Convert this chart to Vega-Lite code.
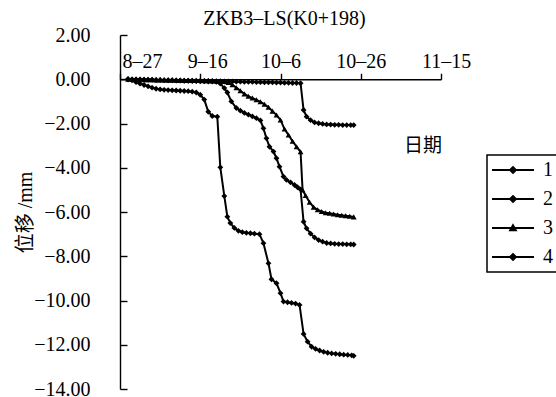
{
  "$schema": "https://vega.github.io/schema/vega-lite/v6.json",
  "width": 321,
  "height": 354,
  "autosize": "none",
  "padding": {"left": 120, "top": 35, "right": 115, "bottom": 8},
  "background": "white",
  "config": {
    "view": {"stroke": null},
    "font": "Liberation Serif, Noto Sans CJK SC",
    "legend": {"strokeWidth": 1.5},
    "axis": {
      "domainColor": "black",
      "domainWidth": 1.4,
      "tickColor": "black",
      "tickWidth": 1.4,
      "labelColor": "black",
      "labelFont": "Liberation Serif",
      "labelFontSize": 20,
      "titleColor": "black",
      "titleFont": "Liberation Serif, Noto Sans CJK SC",
      "titleFontSize": 20,
      "titleFontWeight": "normal",
      "grid": false
    }
  },
  "title": {
    "text": "ZKB3–LS(K0+198)",
    "font": "Liberation Serif",
    "fontSize": 20,
    "fontWeight": "normal",
    "color": "black",
    "frame": "group",
    "anchor": "middle",
    "baseline": "alphabetic",
    "offset": -20,
    "dx": 4
  },
  "data": {
    "format": {"parse": {"t": "date:'%Y-%m-%d %H'"}},
    "values": [
      {"s": "1", "t": "2012-08-29 00", "v": 0},
      {"s": "1", "t": "2012-08-30 00", "v": -0.05},
      {"s": "1", "t": "2012-08-31 00", "v": -0.13},
      {"s": "1", "t": "2012-09-01 00", "v": -0.2},
      {"s": "1", "t": "2012-09-02 00", "v": -0.26},
      {"s": "1", "t": "2012-09-03 00", "v": -0.32},
      {"s": "1", "t": "2012-09-04 00", "v": -0.38},
      {"s": "1", "t": "2012-09-05 00", "v": -0.43},
      {"s": "1", "t": "2012-09-06 00", "v": -0.46},
      {"s": "1", "t": "2012-09-07 00", "v": -0.48},
      {"s": "1", "t": "2012-09-08 00", "v": -0.49},
      {"s": "1", "t": "2012-09-09 00", "v": -0.5},
      {"s": "1", "t": "2012-09-10 00", "v": -0.51},
      {"s": "1", "t": "2012-09-11 00", "v": -0.52},
      {"s": "1", "t": "2012-09-12 00", "v": -0.53},
      {"s": "1", "t": "2012-09-13 00", "v": -0.54},
      {"s": "1", "t": "2012-09-14 00", "v": -0.56},
      {"s": "1", "t": "2012-09-15 00", "v": -0.6},
      {"s": "1", "t": "2012-09-16 00", "v": -0.7},
      {"s": "1", "t": "2012-09-17 00", "v": -0.92},
      {"s": "1", "t": "2012-09-18 00", "v": -1.47},
      {"s": "1", "t": "2012-09-19 00", "v": -1.66},
      {"s": "1", "t": "2012-09-20 06", "v": -1.69},
      {"s": "1", "t": "2012-09-21 00", "v": -3.98},
      {"s": "1", "t": "2012-09-22 00", "v": -5.28},
      {"s": "1", "t": "2012-09-22 18", "v": -6.21},
      {"s": "1", "t": "2012-09-23 12", "v": -6.5},
      {"s": "1", "t": "2012-09-24 12", "v": -6.72},
      {"s": "1", "t": "2012-09-25 12", "v": -6.85},
      {"s": "1", "t": "2012-09-26 12", "v": -6.91},
      {"s": "1", "t": "2012-09-27 12", "v": -6.94},
      {"s": "1", "t": "2012-09-28 12", "v": -6.96},
      {"s": "1", "t": "2012-09-29 12", "v": -6.98},
      {"s": "1", "t": "2012-09-30 18", "v": -7.0},
      {"s": "1", "t": "2012-10-01 18", "v": -7.41},
      {"s": "1", "t": "2012-10-03 00", "v": -8.32},
      {"s": "1", "t": "2012-10-03 18", "v": -9.04},
      {"s": "1", "t": "2012-10-05 00", "v": -9.22},
      {"s": "1", "t": "2012-10-06 00", "v": -9.67},
      {"s": "1", "t": "2012-10-06 18", "v": -10.05},
      {"s": "1", "t": "2012-10-07 18", "v": -10.08},
      {"s": "1", "t": "2012-10-08 18", "v": -10.11},
      {"s": "1", "t": "2012-10-09 18", "v": -10.14},
      {"s": "1", "t": "2012-10-10 18", "v": -10.2},
      {"s": "1", "t": "2012-10-11 18", "v": -11.51},
      {"s": "1", "t": "2012-10-12 18", "v": -11.86},
      {"s": "1", "t": "2012-10-13 18", "v": -12.09},
      {"s": "1", "t": "2012-10-14 18", "v": -12.19},
      {"s": "1", "t": "2012-10-15 18", "v": -12.26},
      {"s": "1", "t": "2012-10-16 18", "v": -12.32},
      {"s": "1", "t": "2012-10-17 18", "v": -12.36},
      {"s": "1", "t": "2012-10-18 18", "v": -12.39},
      {"s": "1", "t": "2012-10-19 18", "v": -12.41},
      {"s": "1", "t": "2012-10-20 18", "v": -12.43},
      {"s": "1", "t": "2012-10-21 18", "v": -12.45},
      {"s": "1", "t": "2012-10-22 18", "v": -12.46},
      {"s": "1", "t": "2012-10-23 18", "v": -12.48},
      {"s": "1", "t": "2012-10-24 06", "v": -12.5},

      {"s": "2", "t": "2012-08-29 00", "v": 0},
      {"s": "2", "t": "2012-08-30 00", "v": -0.01},
      {"s": "2", "t": "2012-08-31 00", "v": -0.01},
      {"s": "2", "t": "2012-09-01 00", "v": -0.02},
      {"s": "2", "t": "2012-09-02 00", "v": -0.02},
      {"s": "2", "t": "2012-09-03 00", "v": -0.03},
      {"s": "2", "t": "2012-09-04 00", "v": -0.03},
      {"s": "2", "t": "2012-09-05 00", "v": -0.04},
      {"s": "2", "t": "2012-09-06 00", "v": -0.04},
      {"s": "2", "t": "2012-09-07 00", "v": -0.05},
      {"s": "2", "t": "2012-09-08 00", "v": -0.05},
      {"s": "2", "t": "2012-09-09 00", "v": -0.05},
      {"s": "2", "t": "2012-09-10 00", "v": -0.06},
      {"s": "2", "t": "2012-09-11 00", "v": -0.06},
      {"s": "2", "t": "2012-09-12 00", "v": -0.07},
      {"s": "2", "t": "2012-09-13 00", "v": -0.07},
      {"s": "2", "t": "2012-09-14 00", "v": -0.08},
      {"s": "2", "t": "2012-09-15 00", "v": -0.08},
      {"s": "2", "t": "2012-09-16 00", "v": -0.09},
      {"s": "2", "t": "2012-09-17 00", "v": -0.09},
      {"s": "2", "t": "2012-09-18 00", "v": -0.1},
      {"s": "2", "t": "2012-09-19 00", "v": -0.1},
      {"s": "2", "t": "2012-09-20 00", "v": -0.12},
      {"s": "2", "t": "2012-09-21 00", "v": -0.2},
      {"s": "2", "t": "2012-09-22 00", "v": -0.4},
      {"s": "2", "t": "2012-09-22 18", "v": -0.6},
      {"s": "2", "t": "2012-09-23 18", "v": -1.0},
      {"s": "2", "t": "2012-09-25 00", "v": -1.3},
      {"s": "2", "t": "2012-09-26 00", "v": -1.42},
      {"s": "2", "t": "2012-09-27 00", "v": -1.52},
      {"s": "2", "t": "2012-09-28 00", "v": -1.6},
      {"s": "2", "t": "2012-09-29 00", "v": -1.68},
      {"s": "2", "t": "2012-09-30 00", "v": -1.76},
      {"s": "2", "t": "2012-10-01 00", "v": -1.86},
      {"s": "2", "t": "2012-10-01 18", "v": -2.22},
      {"s": "2", "t": "2012-10-02 12", "v": -2.67},
      {"s": "2", "t": "2012-10-03 06", "v": -3.05},
      {"s": "2", "t": "2012-10-04 06", "v": -3.27},
      {"s": "2", "t": "2012-10-05 00", "v": -3.57},
      {"s": "2", "t": "2012-10-05 18", "v": -3.95},
      {"s": "2", "t": "2012-10-06 18", "v": -4.4},
      {"s": "2", "t": "2012-10-07 12", "v": -4.55},
      {"s": "2", "t": "2012-10-08 12", "v": -4.66},
      {"s": "2", "t": "2012-10-09 12", "v": -4.78},
      {"s": "2", "t": "2012-10-10 06", "v": -4.88},
      {"s": "2", "t": "2012-10-11 00", "v": -4.98},
      {"s": "2", "t": "2012-10-11 18", "v": -6.44},
      {"s": "2", "t": "2012-10-12 12", "v": -6.74},
      {"s": "2", "t": "2012-10-13 12", "v": -6.98},
      {"s": "2", "t": "2012-10-14 12", "v": -7.15},
      {"s": "2", "t": "2012-10-15 12", "v": -7.27},
      {"s": "2", "t": "2012-10-16 12", "v": -7.34},
      {"s": "2", "t": "2012-10-17 12", "v": -7.4},
      {"s": "2", "t": "2012-10-18 12", "v": -7.42},
      {"s": "2", "t": "2012-10-19 12", "v": -7.44},
      {"s": "2", "t": "2012-10-20 12", "v": -7.45},
      {"s": "2", "t": "2012-10-21 12", "v": -7.45},
      {"s": "2", "t": "2012-10-22 12", "v": -7.46},
      {"s": "2", "t": "2012-10-23 12", "v": -7.46},
      {"s": "2", "t": "2012-10-24 06", "v": -7.47},

      {"s": "3", "t": "2012-08-29 00", "v": 0},
      {"s": "3", "t": "2012-08-30 00", "v": -0.01},
      {"s": "3", "t": "2012-08-31 00", "v": -0.01},
      {"s": "3", "t": "2012-09-01 00", "v": -0.01},
      {"s": "3", "t": "2012-09-02 00", "v": -0.02},
      {"s": "3", "t": "2012-09-03 00", "v": -0.02},
      {"s": "3", "t": "2012-09-04 00", "v": -0.02},
      {"s": "3", "t": "2012-09-05 00", "v": -0.03},
      {"s": "3", "t": "2012-09-06 00", "v": -0.03},
      {"s": "3", "t": "2012-09-07 00", "v": -0.03},
      {"s": "3", "t": "2012-09-08 00", "v": -0.04},
      {"s": "3", "t": "2012-09-09 00", "v": -0.04},
      {"s": "3", "t": "2012-09-10 00", "v": -0.04},
      {"s": "3", "t": "2012-09-11 00", "v": -0.05},
      {"s": "3", "t": "2012-09-12 00", "v": -0.05},
      {"s": "3", "t": "2012-09-13 00", "v": -0.05},
      {"s": "3", "t": "2012-09-14 00", "v": -0.06},
      {"s": "3", "t": "2012-09-15 00", "v": -0.06},
      {"s": "3", "t": "2012-09-16 00", "v": -0.06},
      {"s": "3", "t": "2012-09-17 00", "v": -0.07},
      {"s": "3", "t": "2012-09-18 00", "v": -0.07},
      {"s": "3", "t": "2012-09-19 00", "v": -0.08},
      {"s": "3", "t": "2012-09-20 00", "v": -0.08},
      {"s": "3", "t": "2012-09-21 00", "v": -0.09},
      {"s": "3", "t": "2012-09-22 00", "v": -0.1},
      {"s": "3", "t": "2012-09-23 00", "v": -0.15},
      {"s": "3", "t": "2012-09-24 00", "v": -0.25},
      {"s": "3", "t": "2012-09-25 00", "v": -0.38},
      {"s": "3", "t": "2012-09-26 00", "v": -0.52},
      {"s": "3", "t": "2012-09-27 00", "v": -0.66},
      {"s": "3", "t": "2012-09-28 00", "v": -0.77},
      {"s": "3", "t": "2012-09-29 00", "v": -0.85},
      {"s": "3", "t": "2012-09-30 00", "v": -0.93},
      {"s": "3", "t": "2012-10-01 00", "v": -1.02},
      {"s": "3", "t": "2012-10-02 00", "v": -1.13},
      {"s": "3", "t": "2012-10-03 00", "v": -1.27},
      {"s": "3", "t": "2012-10-04 00", "v": -1.44},
      {"s": "3", "t": "2012-10-05 00", "v": -1.62},
      {"s": "3", "t": "2012-10-06 00", "v": -1.84},
      {"s": "3", "t": "2012-10-07 00", "v": -2.25},
      {"s": "3", "t": "2012-10-08 00", "v": -2.52},
      {"s": "3", "t": "2012-10-09 00", "v": -2.8},
      {"s": "3", "t": "2012-10-10 00", "v": -3.05},
      {"s": "3", "t": "2012-10-11 00", "v": -3.28},
      {"s": "3", "t": "2012-10-11 12", "v": -5.0},
      {"s": "3", "t": "2012-10-12 06", "v": -5.25},
      {"s": "3", "t": "2012-10-13 06", "v": -5.56},
      {"s": "3", "t": "2012-10-14 06", "v": -5.78},
      {"s": "3", "t": "2012-10-15 06", "v": -5.9},
      {"s": "3", "t": "2012-10-16 06", "v": -5.98},
      {"s": "3", "t": "2012-10-17 06", "v": -6.03},
      {"s": "3", "t": "2012-10-18 06", "v": -6.06},
      {"s": "3", "t": "2012-10-19 06", "v": -6.09},
      {"s": "3", "t": "2012-10-20 06", "v": -6.12},
      {"s": "3", "t": "2012-10-21 06", "v": -6.15},
      {"s": "3", "t": "2012-10-22 06", "v": -6.17},
      {"s": "3", "t": "2012-10-23 06", "v": -6.19},
      {"s": "3", "t": "2012-10-24 06", "v": -6.22},

      {"s": "4", "t": "2012-08-29 00", "v": 0},
      {"s": "4", "t": "2012-08-30 00", "v": -0.01},
      {"s": "4", "t": "2012-08-31 00", "v": -0.01},
      {"s": "4", "t": "2012-09-01 00", "v": -0.01},
      {"s": "4", "t": "2012-09-02 00", "v": -0.02},
      {"s": "4", "t": "2012-09-03 00", "v": -0.02},
      {"s": "4", "t": "2012-09-04 00", "v": -0.02},
      {"s": "4", "t": "2012-09-05 00", "v": -0.03},
      {"s": "4", "t": "2012-09-06 00", "v": -0.03},
      {"s": "4", "t": "2012-09-07 00", "v": -0.04},
      {"s": "4", "t": "2012-09-08 00", "v": -0.04},
      {"s": "4", "t": "2012-09-09 00", "v": -0.04},
      {"s": "4", "t": "2012-09-10 00", "v": -0.05},
      {"s": "4", "t": "2012-09-11 00", "v": -0.05},
      {"s": "4", "t": "2012-09-12 00", "v": -0.06},
      {"s": "4", "t": "2012-09-13 00", "v": -0.06},
      {"s": "4", "t": "2012-09-14 00", "v": -0.06},
      {"s": "4", "t": "2012-09-15 00", "v": -0.07},
      {"s": "4", "t": "2012-09-16 00", "v": -0.07},
      {"s": "4", "t": "2012-09-17 00", "v": -0.08},
      {"s": "4", "t": "2012-09-18 00", "v": -0.08},
      {"s": "4", "t": "2012-09-19 00", "v": -0.08},
      {"s": "4", "t": "2012-09-20 00", "v": -0.09},
      {"s": "4", "t": "2012-09-21 00", "v": -0.09},
      {"s": "4", "t": "2012-09-22 00", "v": -0.1},
      {"s": "4", "t": "2012-09-23 00", "v": -0.1},
      {"s": "4", "t": "2012-09-24 00", "v": -0.1},
      {"s": "4", "t": "2012-09-25 00", "v": -0.11},
      {"s": "4", "t": "2012-09-26 00", "v": -0.11},
      {"s": "4", "t": "2012-09-27 00", "v": -0.12},
      {"s": "4", "t": "2012-09-28 00", "v": -0.12},
      {"s": "4", "t": "2012-09-29 00", "v": -0.12},
      {"s": "4", "t": "2012-09-30 00", "v": -0.13},
      {"s": "4", "t": "2012-10-01 00", "v": -0.13},
      {"s": "4", "t": "2012-10-02 00", "v": -0.14},
      {"s": "4", "t": "2012-10-03 00", "v": -0.14},
      {"s": "4", "t": "2012-10-04 00", "v": -0.14},
      {"s": "4", "t": "2012-10-05 00", "v": -0.15},
      {"s": "4", "t": "2012-10-06 00", "v": -0.15},
      {"s": "4", "t": "2012-10-07 00", "v": -0.16},
      {"s": "4", "t": "2012-10-08 00", "v": -0.16},
      {"s": "4", "t": "2012-10-09 00", "v": -0.17},
      {"s": "4", "t": "2012-10-10 00", "v": -0.17},
      {"s": "4", "t": "2012-10-11 00", "v": -0.18},
      {"s": "4", "t": "2012-10-11 18", "v": -1.39},
      {"s": "4", "t": "2012-10-12 12", "v": -1.69},
      {"s": "4", "t": "2012-10-13 12", "v": -1.85},
      {"s": "4", "t": "2012-10-14 12", "v": -1.95},
      {"s": "4", "t": "2012-10-15 12", "v": -1.99},
      {"s": "4", "t": "2012-10-16 12", "v": -2.02},
      {"s": "4", "t": "2012-10-17 12", "v": -2.04},
      {"s": "4", "t": "2012-10-18 12", "v": -2.05},
      {"s": "4", "t": "2012-10-19 12", "v": -2.06},
      {"s": "4", "t": "2012-10-20 12", "v": -2.06},
      {"s": "4", "t": "2012-10-21 12", "v": -2.07},
      {"s": "4", "t": "2012-10-22 12", "v": -2.07},
      {"s": "4", "t": "2012-10-23 12", "v": -2.07},
      {"s": "4", "t": "2012-10-24 06", "v": -2.07}
    ]
  },
  "encoding": {
    "x": {
      "field": "t",
      "type": "temporal",
      "scale": {
        "domain": [
          {"year": 2012, "month": 8, "date": 27},
          {"year": 2012, "month": 11, "date": 15}
        ],
        "nice": false
      },
      "axis": {
        "orient": "top",
        "offset": -44.25,
        "title": null,
        "values": [
          {"year": 2012, "month": 8, "date": 27},
          {"year": 2012, "month": 9, "date": 16},
          {"year": 2012, "month": 10, "date": 6},
          {"year": 2012, "month": 10, "date": 26},
          {"year": 2012, "month": 11, "date": 15}
        ],
        "labelExpr": "timeFormat(datum.value, '%-m') + '–' + timeFormat(datum.value, '%-d')",
        "labelAlign": {"condition": {"test": "datum.index === 0", "value": "left"}, "value": "center"},
        "labelOffset": {
          "condition": [
            {"test": "datum.index === 0", "value": 2},
            {"test": "datum.index === 0.25", "value": 7},
            {"test": "datum.index === 1", "value": 5}
          ],
          "value": 0
        },
        "labelFlush": false,
        "labelOverlap": false,
        "tickSize": 6,
        "labelPadding": 2
      }
    },
    "y": {
      "field": "v",
      "type": "quantitative",
      "scale": {"domain": [-14, 2], "nice": false, "zero": false},
      "axis": {
        "title": "位移 /mm",
        "values": [2, 0, -2, -4, -6, -8, -10, -12, -14],
        "format": ".2f",
        "tickSize": -7,
        "labelPadding": 37,
        "titlePadding": -2
      }
    }
  },
  "layer": [
    {
      "mark": {"type": "line", "color": "black", "interpolate": "linear"},
      "encoding": {
        "detail": {"field": "s", "type": "nominal"},
        "strokeWidth": {
          "field": "s",
          "type": "ordinal",
          "scale": {"domain": ["1", "2", "3", "4"], "range": [2, 2, 2, 1.1]},
          "legend": {
            "title": null,
            "orient": "none",
            "legendX": 367,
            "legendY": 120,
            "strokeColor": "black",
            "fillColor": "white",
            "padding": 5,
            "rowPadding": 9,
            "symbolType": {"expr": "datum.value === '3' ? 'M-3,0H3M-0.4,0.32L0,-0.4L0.4,0.32Z' : 'M-3,0H3M-0.42,0L0,-0.42L0.42,0L0,0.42Z'"},
            "symbolSize": 196,
            "symbolOffset": 11,
            "symbolFillColor": "black",
            "symbolStrokeColor": "black",
            "symbolOpacity": 1,
            "labelFont": "Liberation Serif",
            "labelFontSize": 20,
            "labelColor": "black",
            "labelOffset": 20
          }
        }
      }
    },
    {
      "transform": [{"filter": "datum.s !== '3'"}],
      "mark": {"type": "point", "shape": "diamond", "filled": true, "color": "black", "opacity": 1, "size": 34}
    },
    {
      "transform": [{"filter": "datum.s === '3'"}],
      "mark": {"type": "point", "shape": "triangle-up", "filled": true, "color": "black", "opacity": 1, "size": 34}
    },
    {
      "data": {
        "format": {"parse": {"t": "date:'%Y-%m-%d %H'"}},
        "values": [{"t": "2012-11-10 12", "v": -3.0, "label": "日期"}]
      },
      "mark": {"type": "text", "font": "Noto Sans CJK SC", "fontSize": 19, "color": "black", "align": "center", "baseline": "middle"},
      "encoding": {"text": {"field": "label", "type": "nominal"}}
    }
  ]
}
